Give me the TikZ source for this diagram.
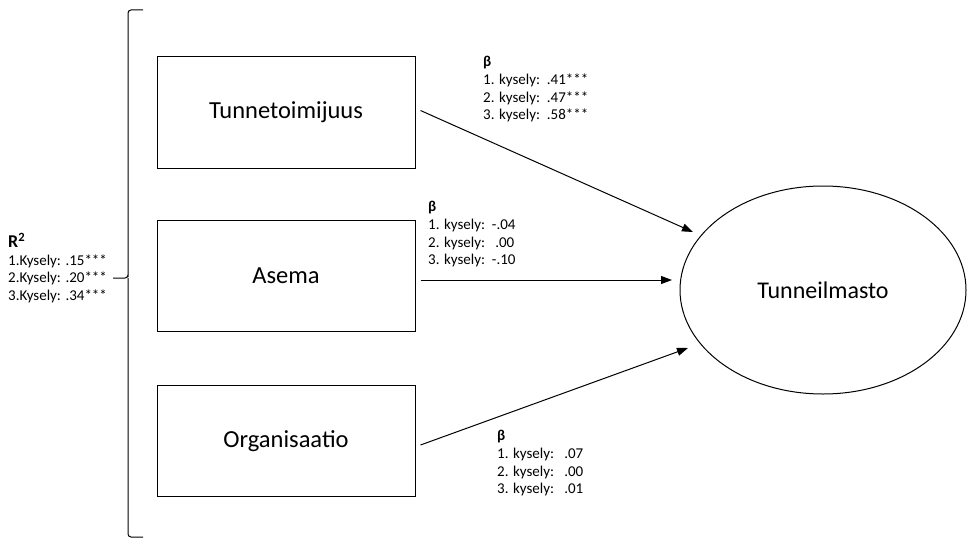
\documentclass[tikz,border=0pt]{standalone}
\usepackage{fontspec}
\setmainfont{Carlito}
\usetikzlibrary{arrows.meta,shapes.geometric}
\begin{document}
\begin{tikzpicture}[x=1pt,y=-1pt,
  box/.style={draw,line width=1pt,minimum width=258pt,minimum height=111pt,font=\fontsize{24.5}{28}\selectfont,inner sep=0pt},
  ell/.style={draw,line width=1pt,ellipse,minimum width=286pt,minimum height=208pt,font=\fontsize{24}{28}\selectfont,inner sep=0pt},
  arr/.style={line width=1pt,-{Triangle[length=11pt,width=8pt]}},
  lab/.style={anchor=north west,align=left,font=\fontsize{15}{17.8}\selectfont,inner sep=0pt}]
\useasboundingbox (0,0) rectangle (968,543);
\node[box] (t) at (286,112.5) {Tunnetoimijuus};
\node[box] (a) at (286,276) {Asema};
\node[box] (o) at (286,441) {Organisaatio};
\node[ell] (e) at (823,290) {Tunneilmasto};
\coordinate (te) at (693,232);
\coordinate (ae) at (672,280);
\coordinate (oe) at (688,348);
\draw[arr] ([xshift=5pt,yshift=2pt]t.east) -- (te);
\draw[arr] ([xshift=5pt,yshift=-4pt]a.east) -- (ae);
\draw[arr] ([xshift=5pt,yshift=-4pt]o.east) -- (oe);
% brace
\coordinate (btop) at (143,10);
\coordinate (bbot) at (143,537);
\coordinate (bmid) at (128,278);
\coordinate (btick) at (113,278);
\draw[line width=1pt,rounded corners=3pt] (btop) -- (128,10) -- (128,274) -- (bmid) -- (btick);
\draw[line width=1pt,rounded corners=3pt] (bmid) -- (128,282) -- (128,537) -- (bbot);
\node[lab] (r2) at (8,233) {\textbf{\fontsize{18}{18}\selectfont R\textsuperscript{2}}\\[-0.5pt]1.Kysely: .15***\\2.Kysely: .20***\\3.Kysely: .34***};
\node[lab] (b1) at (483,56) {\textbf{β}\\1. kysely:\ \ .41***\\2. kysely:\ \ .47***\\3. kysely:\ \ .58***};
\node[lab] (b2) at (428,201) {\textbf{β}\\1. kysely:\ \ -.04\\2. kysely:\ \ \ .00\\3. kysely:\ \ -.10};
\node[lab] (b3) at (497,430) {\textbf{β}\\1. kysely:\ \ \ .07\\2. kysely:\ \ \ .00\\3. kysely:\ \ \ .01};
\end{tikzpicture}
\end{document}
